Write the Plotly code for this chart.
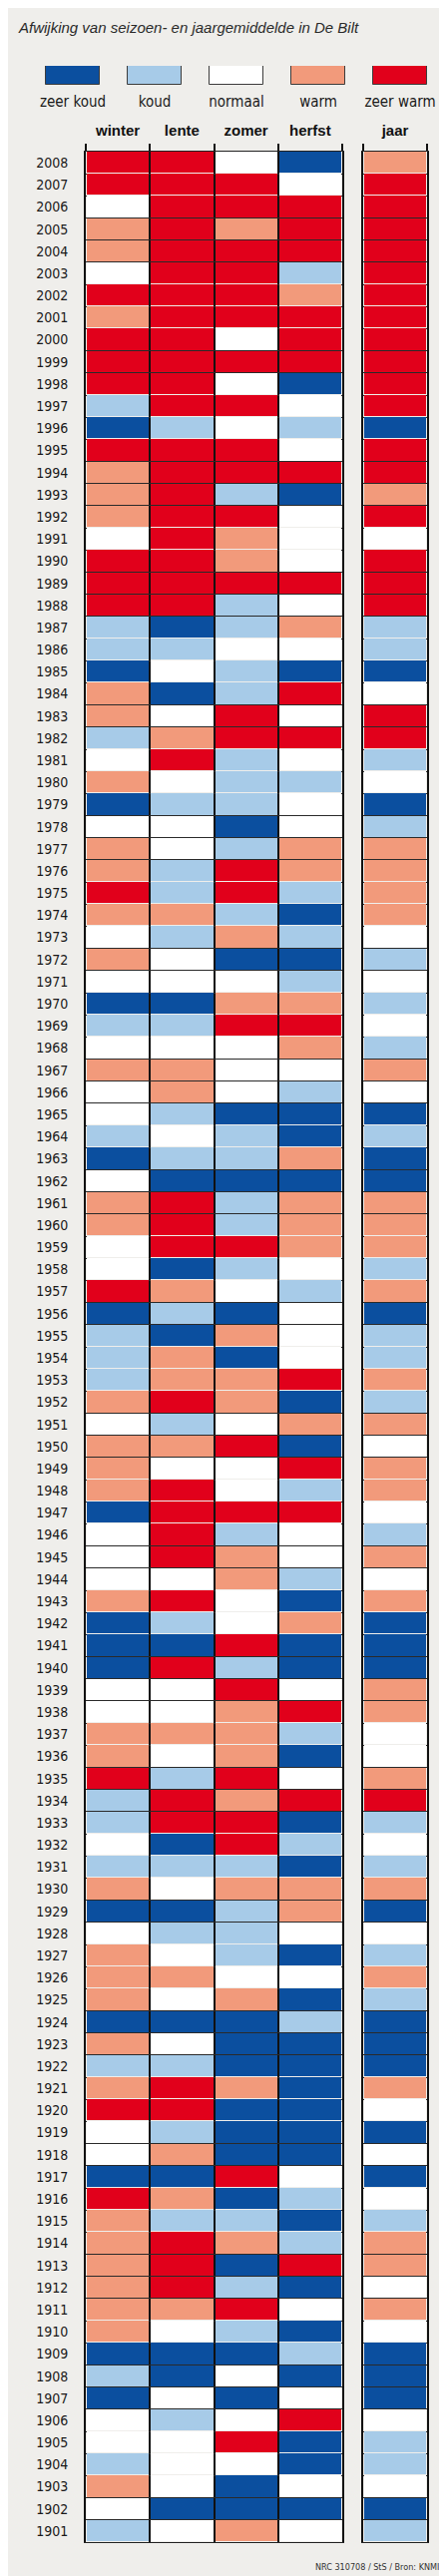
import plotly.graph_objects as go

# Afwijking van seizoen- en jaargemiddelde in De Bilt (KNMI)
# klasse: 0 = zeer koud, 1 = koud, 2 = normaal, 3 = warm, 4 = zeer warm
years = list(range(2008, 1900, -1))

seasons = ["winter", "lente", "zomer", "herfst"]
classes = ["zeer koud", "koud", "normaal", "warm", "zeer warm"]
class_colors = ["#0b4f9f", "#a7cbe8", "#ffffff", "#f29a7b", "#e1001b"]

# per column, 2008 down to 1901 (rows of ten years)
winter = [4, 4, 2, 3, 3, 2, 4, 3, 4, 4,
          4, 1, 0, 4, 3, 3, 3, 2, 4, 4,
          4, 1, 1, 0, 3, 3, 1, 2, 3, 0,
          2, 3, 3, 4, 3, 2, 3, 2, 0, 1,
          2, 3, 2, 2, 1, 0, 2, 3, 3, 2,
          2, 4, 0, 1, 1, 1, 3, 2, 3, 3,
          3, 0, 2, 2, 2, 3, 0, 0, 0, 2,
          2, 3, 3, 4, 1, 1, 2, 1, 3, 0,
          2, 3, 3, 3, 0, 3, 1, 3, 4, 2,
          2, 0, 4, 3, 3, 3, 3, 3, 3, 0,
          1, 0, 2, 2, 1, 3, 2, 1]
lente = [4, 4, 4, 4, 4, 4, 4, 4, 4, 4,
         4, 4, 1, 4, 4, 4, 4, 4, 4, 4,
         4, 0, 1, 2, 0, 2, 3, 4, 2, 1,
         2, 2, 1, 1, 3, 1, 2, 2, 0, 1,
         2, 3, 3, 1, 2, 1, 0, 4, 4, 4,
         0, 3, 1, 0, 3, 3, 4, 1, 3, 2,
         4, 4, 4, 4, 2, 4, 1, 0, 4, 2,
         2, 3, 2, 1, 4, 4, 0, 1, 2, 0,
         1, 2, 3, 2, 0, 2, 1, 4, 4, 1,
         3, 0, 3, 1, 4, 4, 4, 3, 2, 0,
         0, 2, 1, 2, 2, 2, 0, 2]
zomer = [2, 4, 4, 3, 4, 4, 4, 4, 2, 4,
         2, 4, 2, 4, 4, 1, 4, 3, 3, 4,
         1, 1, 2, 1, 1, 4, 4, 1, 1, 1,
         0, 1, 4, 4, 1, 3, 0, 2, 3, 4,
         2, 2, 2, 0, 1, 1, 0, 1, 1, 4,
         1, 2, 0, 3, 0, 3, 3, 2, 4, 2,
         2, 4, 1, 3, 3, 2, 2, 4, 1, 4,
         3, 3, 3, 4, 3, 4, 4, 1, 3, 1,
         1, 1, 2, 3, 0, 0, 0, 3, 0, 0,
         0, 4, 0, 1, 3, 0, 1, 4, 1, 0,
         2, 0, 2, 4, 2, 0, 0, 3]
herfst = [0, 2, 4, 4, 4, 1, 3, 4, 4, 4,
          0, 2, 1, 2, 4, 0, 2, 2, 2, 4,
          2, 3, 2, 0, 4, 2, 4, 2, 1, 2,
          2, 3, 3, 1, 0, 1, 0, 1, 3, 4,
          3, 2, 1, 0, 0, 3, 0, 3, 3, 3,
          2, 1, 2, 2, 2, 4, 0, 3, 0, 4,
          1, 4, 2, 2, 1, 0, 3, 0, 0, 2,
          4, 1, 0, 2, 4, 0, 1, 0, 3, 3,
          2, 0, 2, 0, 1, 0, 0, 0, 0, 0,
          0, 2, 1, 0, 1, 4, 0, 2, 0, 1,
          0, 2, 4, 0, 0, 2, 0, 2]
jaar = [3, 4, 4, 4, 4, 4, 4, 4, 4, 4,
        4, 4, 0, 4, 4, 3, 4, 2, 4, 4,
        4, 1, 1, 0, 2, 4, 4, 1, 2, 0,
        1, 3, 3, 3, 3, 2, 1, 2, 1, 2,
        1, 3, 2, 0, 1, 0, 0, 3, 3, 3,
        1, 3, 0, 1, 1, 3, 1, 3, 2, 3,
        3, 2, 1, 3, 2, 3, 0, 0, 0, 3,
        3, 2, 2, 3, 4, 1, 2, 1, 3, 0,
        2, 1, 3, 1, 0, 0, 0, 3, 2, 0,
        2, 0, 2, 1, 3, 3, 2, 3, 2, 0,
        0, 0, 2, 1, 1, 2, 0, 1]

BG = "#efeeeb"
W, H = 448, 2582
NARROW = "Liberation Sans Narrow, DejaVu Sans Condensed, Liberation Sans, sans-serif"

# discrete colour scale for classes 0..4
scale = []
for i, c in enumerate(class_colors):
    scale.append([i / 5, c])
    scale.append([(i + 1) / 5, c])

z_seasons = [list(r) for r in zip(winter, lente, zomer, herfst)]
z_jaar = [[v] for v in jaar]

fig = go.Figure()

fig.add_trace(go.Heatmap(
    z=z_seasons, x=list(range(len(seasons))), y=years,
    colorscale=scale, zmin=-0.5, zmax=4.5, showscale=False,
    xgap=2, ygap=1, hoverinfo="skip", xaxis="x", yaxis="y",
))
fig.add_trace(go.Heatmap(
    z=z_jaar, x=[0], y=years,
    colorscale=scale, zmin=-0.5, zmax=4.5, showscale=False,
    xgap=2, ygap=1, hoverinfo="skip", xaxis="x2", yaxis="y2",
))

# legend boxes
fig.add_trace(go.Bar(
    x=classes, y=[1] * len(classes), width=0.66,
    marker=dict(color=class_colors, line=dict(color="#3c3c3c", width=1)),
    hoverinfo="skip", xaxis="x3", yaxis="y3",
))

px = lambda v: v / W
py = lambda v: (H - v) / H
grid_dom = [py(2540), py(144)]

col_x = dict(
    side="top", ticks="", showgrid=False, zeroline=False,
    showline=True, mirror=True, linecolor="#222", linewidth=1,
    tickfont=dict(family="Liberation Sans, Arial, sans-serif", size=15, color="#111", weight="bold"),
    ticklabelstandoff=9,
    minor=dict(tick0=-0.5, dtick=1, ticks="outside", ticklen=7, tickwidth=2, tickcolor="#111",
               showgrid=True, gridcolor="#111", gridwidth=2),
    fixedrange=True,
)
row_y = dict(
    range=[years[-1] - 0.5, years[0] + 0.5], domain=grid_dom,
    showgrid=False, zeroline=False, ticks="",
    showline=True, mirror=True, linecolor="#111", linewidth=2,
    minor=dict(tick0=0.5, dtick=1, ticks="", showgrid=True, gridcolor="#2a2a2a", gridwidth=1),
    fixedrange=True,
)

fig.update_layout(
    width=W, height=H,
    margin=dict(l=0, r=0, t=0, b=0),
    paper_bgcolor=BG, plot_bgcolor=BG,
    showlegend=False, bargap=0,
    xaxis=dict(col_x, domain=[px(78), px(335)], range=[-0.5, len(seasons) - 0.5],
               tickvals=list(range(len(seasons))), ticktext=seasons),
    yaxis=dict(row_y, anchor="x", tickvals=years, ticktext=[str(y) for y in years],
               tickfont=dict(family=NARROW, size=14, color="#1a1a1a"), ticklabelstandoff=13),
    xaxis2=dict(col_x, domain=[px(356), px(420)], range=[-0.5, 0.5], anchor="y2",
                tickvals=[0], ticktext=["jaar"]),
    yaxis2=dict(row_y, anchor="x2", matches="y", showticklabels=False),
    xaxis3=dict(domain=[px(24), px(434)], anchor="y3", range=[-0.5, 4.5],
                showgrid=False, zeroline=False, ticks="", showline=False,
                tickfont=dict(family=NARROW, size=15, color="#1a1a1a"), ticklabelstandoff=6,
                fixedrange=True),
    yaxis3=dict(domain=[py(77), py(58)], anchor="x3", range=[0, 1], visible=False, fixedrange=True),
)

fig.add_annotation(
    text="Afwijking van seizoen- en jaargemiddelde in De Bilt",
    xref="paper", yref="paper", x=px(8), y=py(20), xanchor="left", yanchor="middle",
    showarrow=False, font=dict(family="Liberation Sans, Arial, sans-serif", size=15, color="#2a2a2a", style="italic"),
)
fig.add_annotation(
    text="NRC 310708 / StS / Bron: KNMI",
    xref="paper", yref="paper", x=px(434), y=py(2565), xanchor="right", yanchor="middle",
    showarrow=False, font=dict(family=NARROW, size=9, color="#333"),
)

fig.write_html("out.html")
